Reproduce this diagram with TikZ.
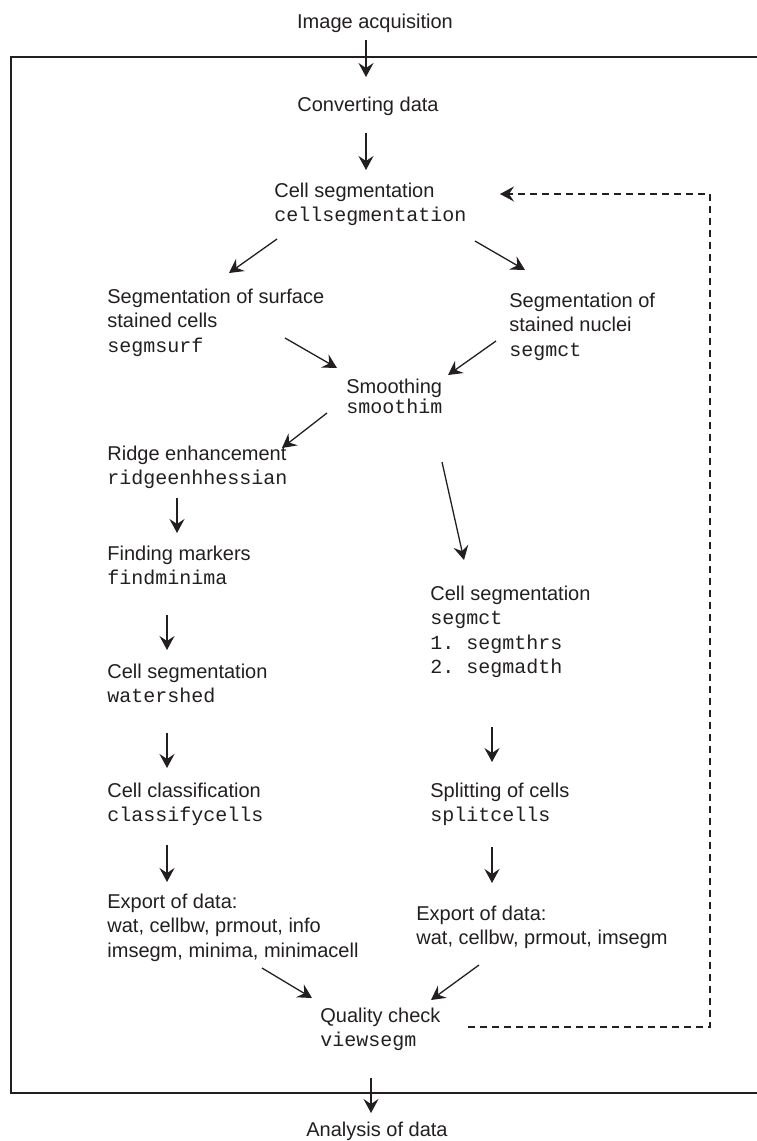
\documentclass[tikz,border=0pt]{standalone}
\usepackage{fontspec}
\setmainfont{Liberation Sans}
\setmonofont{Liberation Mono}
\usetikzlibrary{arrows.meta}
\definecolor{ink}{RGB}{35,31,32}
\newcommand{\steplines}[1]{\begin{tabular}[t]{@{}l@{}}#1\end{tabular}}

\begin{document}
\begin{tikzpicture}[x=0.5pt,y=-0.5pt,
  stage/.style={anchor=base west,inner sep=0pt,text=ink,font=\fontsize{10}{12.3}\selectfont},
  edge/.style={-{Stealth[length=7pt,width=7.5pt,inset=2.5pt]},line width=0.65pt,draw=ink},
  back/.style={edge,dash pattern=on 3.5pt off 2.5pt},
  frame/.style={line width=0.85pt,draw=ink}]
\useasboundingbox (0,0) rectangle (756,1141);
% outer frame, right side runs off the page
\draw[frame] (762,57) -- (11,57) -- (11,1093) -- (762,1093);

\node[stage,anchor=base] (acq) at (375,28) {Image acquisition};
\node[stage] (conv) at (297,111) {Converting data};
\node[stage] (cellseg) at (274,197) {\steplines{Cell segmentation\\\texttt{cellsegmentation}}};
\node[stage] (surf) at (107,303) {\steplines{Segmentation of surface\\stained cells\\\texttt{segmsurf}}};
\node[stage] (nuclei) at (509,307) {\steplines{Segmentation of\\stained nuclei\\\texttt{segmct}}};
\node[stage] (smooth) at (346,393) {\steplines{Smoothing\\[-2pt]\texttt{smoothim}}};
% left branch
\node[stage] (ridge) at (107,460) {\steplines{Ridge enhancement\\\texttt{ridgeenhhessian}}};
\node[stage] (find) at (107,560) {\steplines{Finding markers\\\texttt{findminima}}};
\node[stage] (water) at (107,678) {\steplines{Cell segmentation\\\texttt{watershed}}};
\node[stage] (classify) at (107,797) {\steplines{Cell classification\\\texttt{classifycells}}};
\node[stage] (exportL) at (107,908) {\steplines{Export of data:\\wat, cellbw, prmout, info\\imsegm, minima, minimacell}};
% right branch
\node[stage] (cellsegR) at (430,600) {\steplines{Cell segmentation\\\texttt{segmct}\\\texttt{1. segmthrs}\\\texttt{2. segmadth}}};
\node[stage] (split) at (430,797) {\steplines{Splitting of cells\\\texttt{splitcells}}};
\node[stage] (exportR) at (416,920) {\steplines{Export of data:\\wat, cellbw, prmout, imsegm}};
\node[stage] (quality) at (320,1022) {\steplines{Quality check\\\texttt{viewsegm}}};
\node[stage,anchor=base] (analysis) at (377,1136) {Analysis of data};

\draw[edge] ([shift={(-9,12)}]acq.base) -- ([shift={(69,-34)}]conv.base west);
\draw[edge] ([shift={(69,22)}]conv.base west) -- ([shift={(92,-27)}]cellseg.base west);
\draw[edge] ([shift={(3,42)}]cellseg.base west) -- ([shift={(122,-30)}]surf.base west);
\draw[edge] ([shift={(201,44)}]cellseg.base west) -- ([shift={(16,-37)}]nuclei.base west);
\draw[edge] ([shift={(178,35)}]surf.base west) -- ([shift={(-9,-25)}]smooth.base west);
\draw[edge] ([shift={(-13,34)}]nuclei.base west) -- ([shift={(102,-18)}]smooth.base west);
\draw[edge] ([shift={(-19,20)}]smooth.base west) -- ([shift={(175,-12)}]ridge.base west);
\draw[edge] ([shift={(96,69)}]smooth.base west) -- ([shift={(34,-40)}]cellsegR.base west);
\draw[edge] ([shift={(70,38)}]ridge.base west) -- ([shift={(70,-27)}]find.base west);
\draw[edge] ([shift={(60,55)}]find.base west) -- ([shift={(60,-28)}]water.base west);
\draw[edge] ([shift={(60,55)}]water.base west) -- ([shift={(60,-29)}]classify.base west);
\draw[edge] ([shift={(60,48)}]classify.base west) -- ([shift={(60,-26)}]exportL.base west);
\draw[edge] ([shift={(62,127)}]cellsegR.base west) -- ([shift={(62,-35)}]split.base west);
\draw[edge] ([shift={(62,50)}]split.base west) -- ([shift={(76,-37)}]exportR.base west);
\draw[edge] ([shift={(155,60)}]exportL.base west) -- ([shift={(-8,-24)}]quality.base west);
\draw[edge] ([shift={(63,45)}]exportR.base west) -- ([shift={(111,-22)}]quality.base west);
\draw[edge] ([shift={(51,56)}]quality.base west) -- ([shift={(-6,-23)}]analysis.base);
% feedback loop
\draw[back] ([shift={(148,5)}]quality.base west) -- ++(242,0) |- ([shift={(226,-3)}]cellseg.base west);
\end{tikzpicture}
\end{document}
